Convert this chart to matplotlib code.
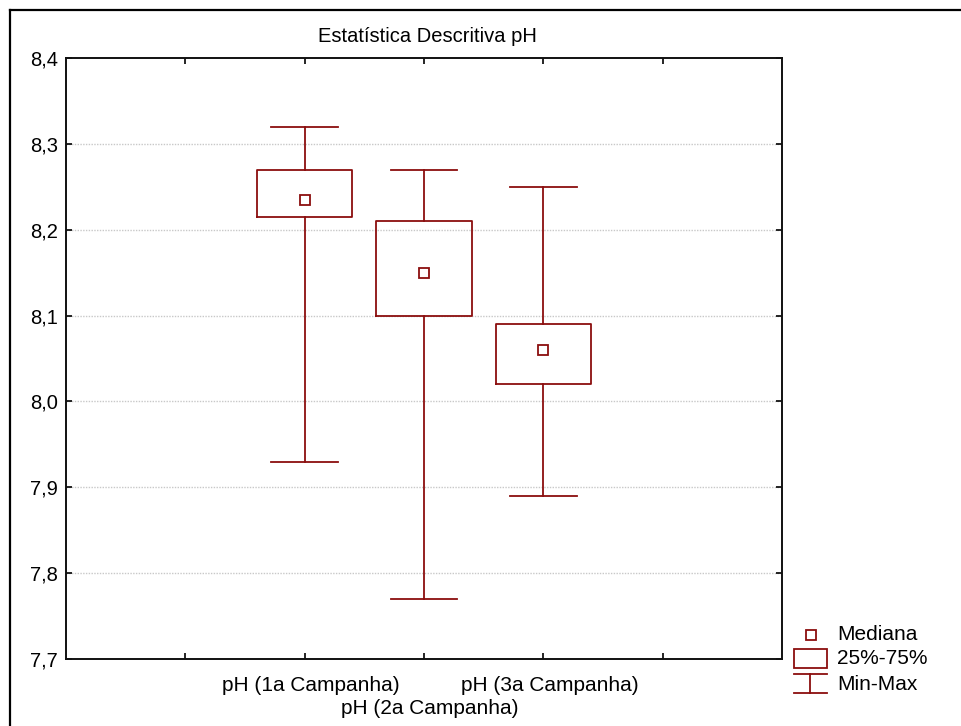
import matplotlib
matplotlib.use("Agg")
import matplotlib.pyplot as plt
import matplotlib.transforms as mtransforms
from matplotlib.lines import Line2D
from matplotlib.patches import Rectangle
from matplotlib.ticker import FuncFormatter

plt.rcParams['font.family'] = ['Liberation Sans', 'DejaVu Sans']

# descriptive statistics for pH per sampling campaign
campanhas = ["pH (1a Campanha)", "pH (2a Campanha)", "pH (3a Campanha)"]
minimos = [7.93, 7.77, 7.89]
q1 = [8.215, 8.10, 8.02]
medianas = [8.235, 8.15, 8.06]
q3 = [8.27, 8.21, 8.09]
maximos = [8.32, 8.27, 8.25]

RED = '#8b0e0e'
W, H = 962, 726
FS = 14.5
FS_X = 15

fig = plt.figure(figsize=(W / 100, H / 100), dpi=100)

# outer frame (open at right / bottom)
fig.add_artist(Line2D([10 / W, 1.0], [1 - 10 / H, 1 - 10 / H], color='black', lw=1.6,
                      transform=fig.transFigure))
fig.add_artist(Line2D([10 / W, 10 / W], [0.0, 1 - 10 / H], color='black', lw=1.6,
                      transform=fig.transFigure))

ax = fig.add_axes([66 / W, (H - 659) / H, (782 - 66) / W, (659 - 58) / H])

posicoes = [2, 3, 4]
stats = []
for nome, lo, a, m, b, hi in zip(campanhas, minimos, q1, medianas, q3, maximos):
    stats.append(dict(label=nome, whislo=lo, q1=a, med=m, q3=b, whishi=hi))

line_kw = dict(color=RED, linewidth=1.3)
ax.bxp(stats, positions=posicoes, widths=0.8, capwidths=0.56, showfliers=False,
       manage_ticks=False, boxprops=line_kw, whiskerprops=line_kw, capprops=line_kw,
       medianprops=dict(linestyle='none'), zorder=3)
ax.plot(posicoes, medianas, linestyle='none', marker='s', markersize=7,
        markerfacecolor='white', markeredgecolor=RED, markeredgewidth=1.3, zorder=4)

ax.set_xlim(0, 6)
ax.set_ylim(7.7, 8.4)
ax.set_yticks([7.7, 7.8, 7.9, 8.0, 8.1, 8.2, 8.3, 8.4])
ax.yaxis.set_major_formatter(FuncFormatter(lambda v, p: f"{v:.1f}".replace('.', ',')))

# 1st and 3rd labels on major ticks, the 2nd one on a minor tick one line lower
ax.set_xticks([1, 2, 4, 5])
ax.set_xticklabels(['', campanhas[0], campanhas[2], ''])
ax.set_xticks([3], minor=True)
ax.set_xticklabels([campanhas[1]], minor=True)

for y in [7.8, 7.9, 8.0, 8.1, 8.2, 8.3]:
    ax.axhline(y, color='#c8c8c8', lw=1.0, linestyle=(0, (1, 1)), zorder=1)

ax.tick_params(which='both', direction='in', length=4, width=1.2, top=True, right=True,
               labelsize=FS, colors='black')
ax.tick_params(axis='y', pad=6)
ax.tick_params(axis='x', which='major', pad=12, labelsize=FS_X)
ax.tick_params(axis='x', which='minor', pad=29, labelsize=FS_X)
shift = mtransforms.ScaledTranslation(6 / 100, 0, fig.dpi_scale_trans)
for lab in ax.get_xticklabels(which='both'):
    lab.set_transform(lab.get_transform() + shift)
for s in ax.spines.values():
    s.set_linewidth(1.4)
    s.set_color('#111111')

ax.set_title("Estatística Descritiva pH", fontsize=FS, pad=11.5, x=0.505)

# legend drawn in pixel units
lg = fig.add_axes([780 / W, (H - 700) / H, 180 / W, 80 / H])
lg.set_xlim(780, 960)
lg.set_ylim(700, 620)
lg.axis('off')
lg.plot([811], [635], linestyle='none', marker='s', markersize=7,
        markerfacecolor='white', markeredgecolor=RED, markeredgewidth=1.3)
lg.add_patch(Rectangle((794.5, 649), 32.5, 19, fill=False, edgecolor=RED, lw=1.3))
lg.plot([794.5, 827], [673.5, 673.5], color=RED, lw=1.3)
lg.plot([794.5, 827], [692.5, 692.5], color=RED, lw=1.3)
lg.plot([810.5, 810.5], [673.5, 692.5], color=RED, lw=1.3)
for texto, yy in [("Mediana", 635), ("25%-75%", 659), ("Min-Max", 684)]:
    lg.text(837, yy, texto, fontsize=FS_X, va='center', ha='left')

fig.savefig("out.png", dpi=100)
